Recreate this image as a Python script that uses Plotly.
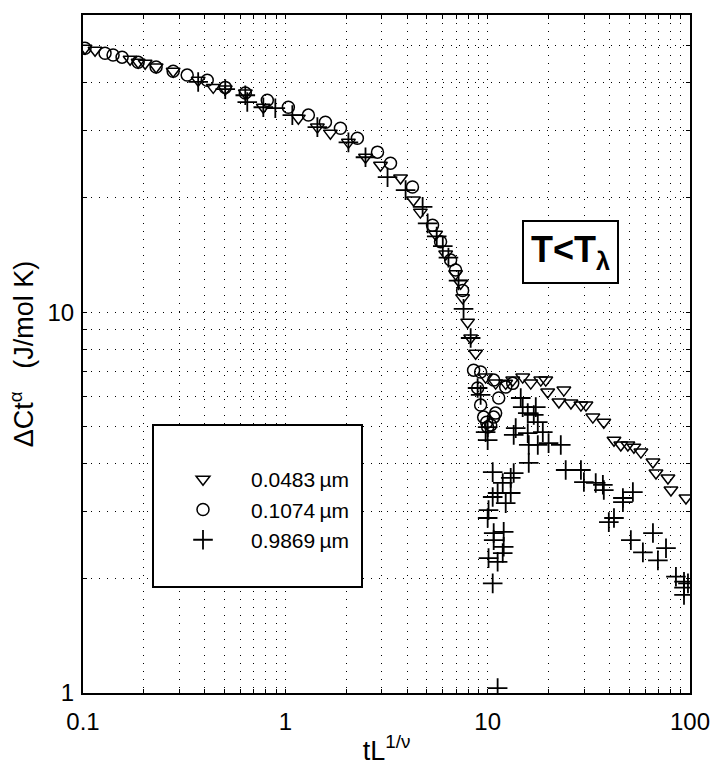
import plotly.graph_objects as go

# ---- data: 0.0483 um (triangles) ----
tri_x = [0.1023, 0.1147, 0.1709, 0.1873, 0.2028, 0.2298, 0.279, 0.3709, 0.4402, 0.5047,
         0.634, 0.7784, 1.16, 1.44, 1.67, 2.05, 2.49, 2.953, 3.71, 4.30, 4.65,
         5.53, 6.2, 6.94, 7.35, 7.52, 7.96, 8.24, 8.72, 9.77, 10.95, 12.28, 13.3, 14.9, 16.33, 18.3,
         19.37, 19.8, 23.8, 22.5, 25.8, 28.9, 30.6, 33.1, 37.5, 42.1, 45.5, 49.3,
         52.8, 57.2, 65.6, 67.9, 77.8, 80.5, 95.5]
tri_y = [49.3, 48.7, 46.1, 45.3, 45.0, 44.0, 42.9, 40.6, 38.9, 38.5,
         37.6, 34.5, 32.3, 30.6, 29.5, 27.9, 25.5, 24.3, 22.5, 19.7, 18.3,
         16.0, 14.2, 12.6, 11.9, 10.9, 9.41, 8.55, 7.80, 6.75, 6.51, 6.5, 6.63, 6.75, 6.51, 6.63,
         6.63, 6.17, 6.24, 5.81, 5.77, 5.70, 5.70, 5.30, 5.14, 4.61, 4.48, 4.48,
         4.42, 4.29, 4.04, 3.78, 3.67, 3.41, 3.25]

# ---- data: 0.1074 um (circles) ----
cir_x = [0.1023, 0.1285, 0.1408, 0.156, 0.1873, 0.2298, 0.279, 0.3273, 0.4111, 0.5047,
         0.634, 0.8145, 1.035, 1.30, 1.578, 1.872, 2.27, 2.854, 3.31, 4.25, 5.34,
         5.85, 6.56, 6.94, 7.52, 8.52, 9.23, 10.71, 12.28, 13.3, 8.92, 11.34, 9.23, 9.55, 10.71,
         10.0, 10.35, 9.89, 10.95]
cir_y = [49.3, 47.8, 47.3, 46.7, 45.3, 44.0, 42.9, 41.9, 40.6, 38.9,
         37.6, 36.0, 34.5, 32.9, 31.5, 30.4, 28.6, 26.3, 24.6, 21.3, 16.9,
         15.3, 13.7, 12.9, 11.4, 7.04, 6.96, 6.63, 6.36, 6.5, 6.32, 5.95, 5.70, 5.30, 5.30,
         4.99, 5.05, 5.14, 5.43]

# ---- data: 0.9869 um (plus) ----
plus_x = [0.3709, 0.5047, 0.634, 0.6485, 0.7784, 0.8923, 1.083, 1.44, 2.05, 2.49,
          3.2, 3.93, 4.77, 5.05, 5.6, 6.0, 6.4, 7.18, 7.60, 8.24, 8.92, 9.23, 10.0, 10.0, 9.77,
          14.57, 14.9, 17.29, 15.78, 16.9, 17.69, 18.73, 13.76, 13.45, 15.78, 15.96,
          17.69, 20.0, 22.98, 15.96, 10.59, 13.45, 13.0, 11.87, 11.2, 10.59, 13.0,
          12.28, 10.1, 10.0, 10.71, 12.0, 10.71, 12.0, 11.87, 10.1, 11.2, 10.59,
          11.2, 24.3, 28.9, 29.9, 34.2, 37.1, 37.5, 46.6, 46.6, 52.2, 42.1, 39.7,
          51.0, 65.6, 58.5, 76.1, 69.4, 85.2, 93.4, 97.7, 93.4, 93.4]
plus_y = [40.2, 38.5, 37.1, 35.6, 34.5, 34.3, 32.9, 30.6, 27.9, 25.5,
          22.6, 20.9, 18.9, 17.1, 15.8, 14.9, 13.9, 12.1, 10.2, 8.55, 6.32, 6.06, 4.99, 4.61, 4.84,
          5.95, 5.63, 5.63, 5.43, 5.37, 5.14, 4.84, 4.96, 4.76, 4.81, 4.48,
          4.48, 4.53, 4.48, 4.02, 3.80, 3.78, 3.67, 3.56, 3.35, 3.27, 3.35,
          3.15, 3.02, 2.88, 2.63, 2.65, 2.52, 2.42, 2.33, 2.26, 2.21, 1.94,
          1.03, 3.85, 3.85, 3.58, 3.56, 3.52, 3.41, 3.25, 3.17, 3.37, 2.88, 2.81,
          2.52, 2.63, 2.34, 2.40, 2.23, 2.02, 1.96, 1.94, 1.89, 1.81]

series_names = ["0.0483\u2009\u00b5m", "0.1074\u2009\u00b5m", "0.9869\u2009\u00b5m"]

x_major = [0.1, 1, 10, 100]
x_major_text = ["0.1", "1", "10", "100"]
y_major = [1, 10]
y_major_text = ["1", "10"]

FONT = "Liberation Sans, Arial, sans-serif"

def grid_vals(lo_exp, hi_exp):
    vals = []
    for e in range(lo_exp, hi_exp + 1):
        for m in range(1, 10):
            vals.append(m * 10 ** e)
    return vals

xt = [v for v in grid_vals(-1, 2) if 0.1 - 1e-9 <= v <= 100 + 1e-9]
yt = [v for v in grid_vals(0, 1) if 1 - 1e-9 <= v <= 60 + 1e-9]

def lbl(vals, major, text):
    out = []
    for v in vals:
        s = ""
        for m, t in zip(major, text):
            if abs(v - m) < 1e-9 * max(1, m):
                s = t
        out.append(s)
    return out

fig = go.Figure()
mk = dict(color="black", size=12, line=dict(color="black", width=1.5))
fig.add_trace(go.Scatter(x=tri_x, y=tri_y, mode="markers", name=series_names[0],
                         marker=dict(symbol="triangle-down-open", **mk)))
fig.add_trace(go.Scatter(x=cir_x, y=cir_y, mode="markers", name=series_names[1],
                         marker=dict(symbol="circle-open", **mk)))
fig.add_trace(go.Scatter(x=plus_x, y=plus_y, mode="markers", name=series_names[2],
                         marker=dict(symbol="cross-thin-open", color="black", size=14,
                                     line=dict(color="black", width=1.8))))

axis_common = dict(type="log", showline=True, linecolor="black", linewidth=2, mirror="ticks",
                   showgrid=True, gridcolor="black", griddash="1px,7px", gridwidth=1,
                   ticks="inside", ticklen=4, tickcolor="black", tickwidth=1,
                   zeroline=False, automargin=False,
                   tickfont=dict(family=FONT, size=24, color="black"))

fig.update_xaxes(range=[-1, 2], tickvals=xt, ticktext=lbl(xt, x_major, x_major_text),
                 ticklabelstandoff=6,
                 title=dict(text="tL<sup>1/\u03bd</sup>", font=dict(family=FONT, size=27, color="black"),
                            standoff=7),
                 **axis_common)
fig.update_yaxes(range=[0, 1.78], tickvals=yt, ticktext=lbl(yt, y_major, y_major_text),
                 ticklabelstandoff=2,
                 title=dict(text="\u0394Ct<sup>\u03b1</sup>   (J/mol K)",
                            font=dict(family=FONT, size=27, color="black"), standoff=6),
                 **axis_common)

# legend frame
fig.add_shape(type="rect", xref="paper", yref="paper",
              x0=(153 - 83) / 607, x1=(362 - 83) / 607,
              y0=(693 - 587) / 678, y1=(693 - 425) / 678,
              line=dict(color="black", width=2), fillcolor="white", layer="above")

fig.update_layout(
    width=717, height=766,
    margin=dict(l=83, r=27, t=15, b=73),
    paper_bgcolor="white", plot_bgcolor="white",
    font=dict(family=FONT, color="black"),
    showlegend=True,
    legend=dict(x=(155 - 83) / 607, y=(693 - 459) / 678, xanchor="left", yanchor="top",
                bgcolor="rgba(0,0,0,0)", borderwidth=0, itemwidth=86,
                font=dict(family=FONT, size=21, color="black"),
                tracegroupgap=4),
    annotations=[dict(xref="paper", yref="paper",
                      x=(619 - 83) / 607, y=(693 - 284) / 678, xanchor="right", yanchor="bottom",
                      text="<b>T&lt;T<sub>\u03bb</sub></b>", showarrow=False,
                      font=dict(family=FONT, size=36, color="black"),
                      bordercolor="black", borderwidth=2, borderpad=7, bgcolor="white")],
)

fig.write_html("out.html")
